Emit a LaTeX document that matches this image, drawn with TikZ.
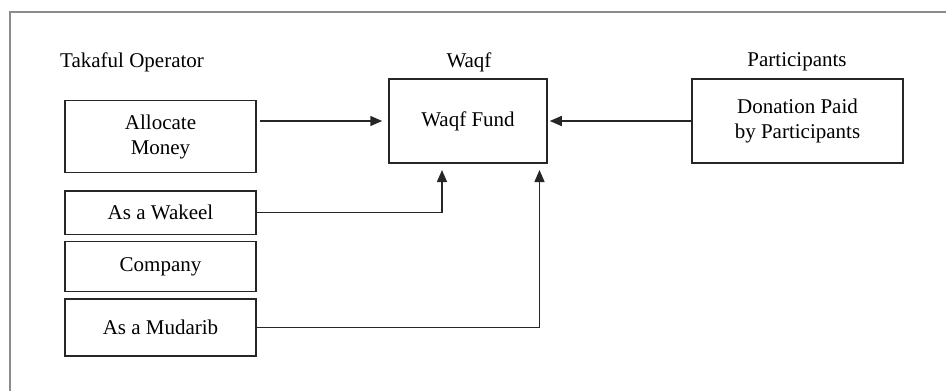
\documentclass[tikz,border=0pt]{standalone}
\usepackage{fontspec}
\setmainfont{Liberation Serif}
\usetikzlibrary{arrows.meta}
\begin{document}
\begin{tikzpicture}[x=1pt,y=-1pt,
  box/.style={draw=black!85,line width=1.5pt,minimum width=#1,inner sep=0pt,align=center,font=\fontsize{21}{25}\selectfont},
  lbl/.style={inner sep=0pt,font=\fontsize{21}{25}\selectfont},
  conn/.style={draw=black!85,line width=1.5pt,-{Triangle[length=12pt,width=10pt]}}]
\useasboundingbox (0,0) rectangle (946,391);
\draw[black!45,line width=1.8pt] (10,391) -- (10,12) -- (946,12);
\node[lbl,anchor=west] (tlab) at (60,62) {Takaful Operator};
\node[lbl] (wlab) at (469,62) {Waqf};
\node[lbl] (plab) at (797,62) {Participants};
\node[box=191pt,minimum height=72pt] (alloc) at (160.5,136.5) {Allocate\\Money};
\node[box=158pt,minimum height=84pt] (fund) at (468,121) {Waqf Fund};
\node[box=211pt,minimum height=84pt] (part) at (797.5,121) {Donation Paid\\by Participants};
\node[box=191pt,minimum height=43.5pt] (wak) at (160.5,212.5) {As a Wakeel};
\node[box=191pt,minimum height=50pt] (comp) at (160.5,266.7) {Company};
\node[box=191pt,minimum height=57pt] (mud) at (160.5,327.5) {As a Mudarib};
\coordinate (wx) at (442,170);
\coordinate (mx) at (539.5,170);
\draw[conn,shorten <=3pt,shorten >=6pt] (alloc.east |- fund.west) -- (fund.west);
\draw[conn,shorten >=2pt] (part.west) -- (fund.east);
\draw[conn] (wak.east) -- (wak.east -| wx) -- (wx);
\draw[conn] (mud.east) -- (mud.east -| mx) -- (mx);
\end{tikzpicture}
\end{document}
